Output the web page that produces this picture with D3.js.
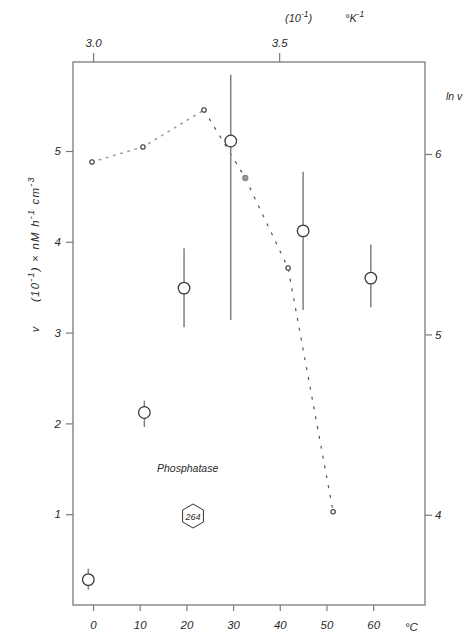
<!DOCTYPE html>
<html>
<head>
<meta charset="utf-8">
<script src="https://cdn.jsdelivr.net/npm/d3@7"></script>
<style>
  body { margin:0; background:#fff; }
  svg { display:block; }
  text { font-family: "Liberation Sans", Arial, sans-serif; font-style: italic; fill:#2a2a2a; }
</style>
</head>
<body>
<svg id="chart" width="476" height="634"></svg>
<script>
// ---- data ----
const tempC   = [-1, 11, 19.5, 29.5, 45, 59.5];          // °C
const rate    = [0.28, 2.12, 3.49, 5.11, 4.12, 3.60];    // v (10^-1 nM h^-1 cm^-3)
const rateLo  = [0.17, 1.96, 3.06, 3.14, 3.25, 3.28];
const rateHi  = [0.40, 2.25, 3.93, 5.84, 4.77, 3.97];

const invT    = [2.997, 3.134, 3.298, 3.409, 3.524, 3.645]; // 1/T (10^-1 ... °K^-1)
const lnV     = [5.956, 6.039, 6.244, 5.867, 5.368, 4.017];

const bottomTicks = [0, 10, 20, 30, 40, 50, 60];
const topTicks    = [3.0, 3.5];
const leftTicks   = [1, 2, 3, 4, 5];
const rightTicks  = [4, 5, 6];

// ---- layout ----
const L = 73, R = 425, T = 62, B = 605;
const svg = d3.select("#chart");

const xC   = d3.scaleLinear().domain([-4.28, 71.1]).range([L, R]);
const xInv = d3.scaleLinear().domain([2.946, 3.892]).range([L, R]);
const yV   = d3.scaleLinear().domain([0, 5.98]).range([B, T]);
const yLn  = d3.scaleLinear().domain([3.50, 6.51]).range([B, T]);

const axisColor = "#7a7a7a";

function styleAxis(g) {
  g.select(".domain").remove();
  g.selectAll(".tick line").attr("stroke", axisColor).attr("stroke-width", 1.2);
  g.selectAll(".tick text").attr("font-size", 11.5).attr("fill", "#2a2a2a")
    .style("font-family", '"Liberation Sans", Arial, sans-serif').style("font-style", "italic");
}

// frame
svg.append("rect").attr("x", L).attr("y", T).attr("width", R - L).attr("height", B - T)
  .attr("fill", "none").attr("stroke", axisColor).attr("stroke-width", 1.3);

// axes
svg.append("g").attr("transform", `translate(0,${B})`)
  .call(d3.axisBottom(xC).tickValues(bottomTicks).tickFormat(d3.format("d")).tickSize(6).tickPadding(10))
  .call(styleAxis);
svg.append("g").attr("transform", `translate(0,${T})`)
  .call(d3.axisTop(xInv).tickValues(topTicks).tickFormat(d3.format(".1f")).tickSize(9).tickPadding(6))
  .call(styleAxis);
svg.append("g").attr("transform", `translate(${L},0)`)
  .call(d3.axisLeft(yV).tickValues(leftTicks).tickFormat(d3.format("d")).tickSize(7).tickPadding(5))
  .call(styleAxis);
svg.append("g").attr("transform", `translate(${R},0)`)
  .call(d3.axisRight(yLn).tickValues(rightTicks).tickFormat(d3.format("d")).tickSize(7).tickPadding(3))
  .call(styleAxis);

// axis titles
svg.append("text").attr("x", 405).attr("y", 631).attr("font-size", 11.5).text("°C");
const tt = svg.append("text").attr("x", 285).attr("y", 22).attr("font-size", 11);
tt.append("tspan").text("(10");
tt.append("tspan").attr("dy", -5).attr("font-size", 8.5).text("-1");
tt.append("tspan").attr("dy", 5).text(")");
const tk = svg.append("text").attr("x", 345).attr("y", 22).attr("font-size", 11);
tk.append("tspan").text("°K");
tk.append("tspan").attr("dy", -5).attr("font-size", 8.5).text("-1");
svg.append("text").attr("x", 446).attr("y", 100).attr("font-size", 10.5).text("ln  v");

const lt = svg.append("text").attr("transform", "translate(39,302) rotate(-90)")
  .attr("font-size", 11.5).attr("letter-spacing", 1.2);
lt.append("tspan").text("(10");
lt.append("tspan").attr("dy", -5).attr("font-size", 9).text("-1");
lt.append("tspan").attr("dy", 5).text(") × nM h");
lt.append("tspan").attr("dy", -5).attr("font-size", 9).text("-1");
lt.append("tspan").attr("dy", 5).text(" cm");
lt.append("tspan").attr("dy", -5).attr("font-size", 9).text("-3");
svg.append("text").attr("transform", "translate(39,332) rotate(-90)").attr("font-size", 10.5).text("v");

// ln v vs 1/T dotted / dashed curve
const pts = invT.map((d, i) => [xInv(d), yLn(lnV[i])]);
const line = d3.line();
svg.append("path").attr("d", line(pts.slice(0, 3))).attr("fill", "none")
  .attr("stroke", "#a0a0a0").attr("stroke-width", 1.6).attr("stroke-dasharray", "1.5,6")
  .attr("stroke-linecap", "round");
svg.append("path").attr("d", line(pts.slice(2))).attr("fill", "none")
  .attr("stroke", "#555").attr("stroke-width", 1.2).attr("stroke-dasharray", "3,7");
svg.selectAll("circle.small").data(pts).join("circle").attr("class", "small")
  .attr("cx", d => d[0]).attr("cy", d => d[1])
  .attr("r", (d, i) => i === 3 ? 2.6 : 2.2)
  .attr("fill", (d, i) => i === 3 ? "#999" : "#fff")
  .attr("stroke", (d, i) => i === 3 ? "#888" : "#333").attr("stroke-width", 1.1);

// error bars + open circles (v vs °C)
svg.selectAll("line.err").data(tempC).join("line").attr("class", "err")
  .attr("x1", d => xC(d)).attr("x2", d => xC(d))
  .attr("y1", (d, i) => yV(rateHi[i])).attr("y2", (d, i) => yV(rateLo[i]))
  .attr("stroke", "#808080").attr("stroke-width", 1.5);
svg.selectAll("circle.big").data(tempC).join("circle").attr("class", "big")
  .attr("cx", d => xC(d)).attr("cy", (d, i) => yV(rate[i])).attr("r", 5.8)
  .attr("fill", "#fff").attr("stroke", "#3a3a3a").attr("stroke-width", 1.3);

// annotations
svg.append("text").attr("x", 157).attr("y", 472).attr("font-size", 10.5).text("Phosphatase");
const hx = 193, hy = 516, hr = 12;
const hex = d3.range(6).map(k => {
  const a = Math.PI / 2 + k * Math.PI / 3;
  return [hx + hr * Math.cos(a), hy + hr * Math.sin(a)];
});
svg.append("path").attr("d", d3.line()(hex) + "Z").attr("fill", "none")
  .attr("stroke", "#333").attr("stroke-width", 1);
svg.append("text").attr("x", hx).attr("y", hy + 3.5).attr("text-anchor", "middle")
  .attr("font-size", 9).text("264");
</script>
</body>
</html>
